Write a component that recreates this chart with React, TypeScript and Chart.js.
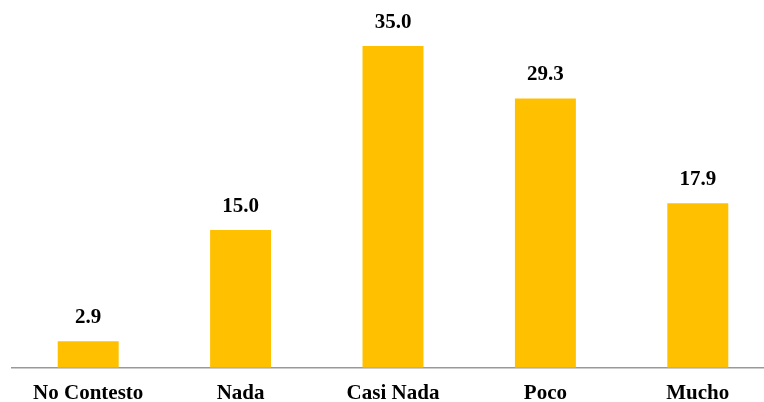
import React, { useEffect, useRef } from "react";
import { Chart, registerables } from "chart.js";

Chart.register(...registerables);

const categories = ["No Contesto", "Nada", "Casi Nada", "Poco", "Mucho"];
const values = [2.9, 15.0, 35.0, 29.3, 17.9];

const FONT = '"Liberation Serif", "Times New Roman", serif';

const valueLabels = {
  id: "valueLabels",
  afterDatasetsDraw(chart: any) {
    const ctx = chart.ctx;
    const meta = chart.getDatasetMeta(0);
    ctx.save();
    ctx.font = `bold 21px ${FONT}`;
    ctx.fillStyle = "#000";
    ctx.textAlign = "center";
    ctx.textBaseline = "alphabetic";
    meta.data.forEach((bar: any, i: number) => {
      ctx.fillText(values[i].toFixed(1), bar.x, bar.y - 18);
    });
    ctx.restore();
  },
};

export default function App() {
  const ref = useRef<HTMLCanvasElement>(null);
  useEffect(() => {
    if (!ref.current) return;
    const chart = new Chart(ref.current, {
      type: "bar",
      data: {
        labels: categories,
        datasets: [
          {
            data: values,
            backgroundColor: "#FFC000",
            barPercentage: 0.4,
            categoryPercentage: 1,
          },
        ],
      },
      options: {
        responsive: false,
        animation: false,
        layout: { padding: { left: 12, right: 0, top: 0, bottom: -17 } },
        plugins: { legend: { display: false }, tooltip: { enabled: false } },
        scales: {
          x: {
            grid: { display: false, drawTicks: false },
            border: { display: true, color: "#999", width: 1.5 },
            ticks: {
              color: "#000",
              padding: 13,
              font: { family: FONT, size: 21, weight: "bold" },
            },
          },
          y: {
            display: false,
            min: 0,
            max: 40,
          },
        },
      },
      plugins: [valueLabels],
    });
    return () => chart.destroy();
  }, []);
  return (
    <div
      style={{
        position: "fixed",
        left: 0,
        top: 0,
        width: 764,
        height: 402,
        overflow: "hidden",
        background: "#fff",
      }}
    >
      <canvas ref={ref} width={774} height={402} style={{ display: "block" }} />
    </div>
  );
}
